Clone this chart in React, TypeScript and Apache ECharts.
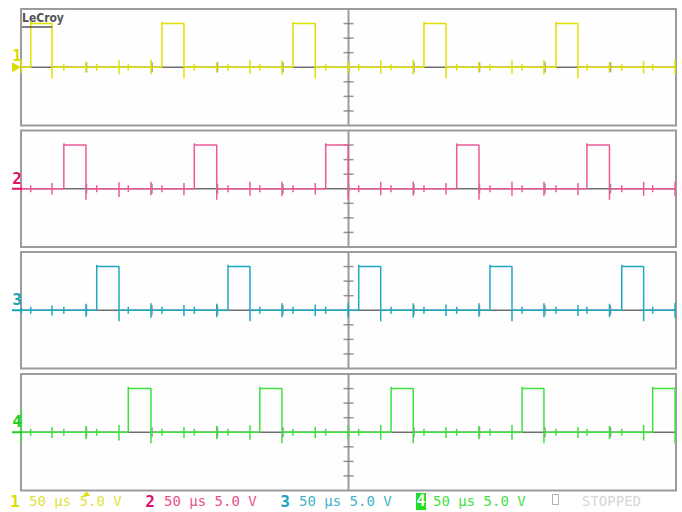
import React, { useEffect, useRef } from "react";
import * as echarts from "echarts";

// ---- scope settings ----
const timeMin = 0; // µs
const timeMax = 500; // µs (10 div x 50 µs)
const voltMin = -20; // V (8 div x 5 V)
const voltMax = 20;
const centerTime = 250;
const divTimes = [50, 100, 150, 200, 250, 300, 350, 400, 450];
const divVolts = [-15, -10, -5, 5, 10, 15];
const pulseHigh = 15;
const pulsePeak = 15.5;
const undershoot = -3.8;

// ---- channel pulse edges (µs) ----
const ch1Rises = [7.4, 107.6, 207.6, 307.6, 408.4];
const ch1Falls = [23.7, 124.4, 224.6, 324.4, 425.2];
const ch2Rises = [32.7, 132.3, 232.6, 332.6, 432.0];
const ch2Falls = [49.6, 149.4, 249.8, 349.6, 449.2];
const ch3Rises = [57.8, 158.0, 257.8, 358.0, 458.6];
const ch3Falls = [74.8, 174.8, 274.6, 374.8, 475.3];
const ch4Rises = [81.9, 182.3, 282.5, 382.5, 482.2];
const ch4Falls = [99.2, 199.2, 299.4, 399.2, 499.3];

// ---- crosstalk spikes: [time µs, up V, down V] ----
const ch1Spikes: number[][] = [
  [0.3, 2.4, 2.0], [32.7, 1.1, 1.1], [49.6, 1.9, 1.9], [57.8, 1.2, 1.2], [74.8, 2.4, 2.4], [81.9, 1.2, 1.1], [99.2, 2.6, 2.4],
  [132.3, 1.1, 1.1], [149.4, 1.6, 1.8], [158.0, 1.2, 1.2], [174.8, 2.4, 2.2], [182.3, 1.2, 1.1], [199.2, 2.4, 2.5],
  [232.6, 1.1, 1.1], [249.8, 2.0, 2.0], [257.8, 1.2, 1.2], [274.6, 2.4, 2.2], [282.5, 1.0, 1.0], [299.4, 2.6, 2.4],
  [332.6, 1.1, 1.1], [349.6, 1.8, 1.8], [358.0, 1.2, 1.2], [374.8, 2.4, 2.2], [382.5, 1.2, 1.1], [399.2, 2.5, 2.4],
  [432.0, 1.1, 1.1], [449.2, 1.8, 1.8], [458.6, 1.2, 1.2], [475.3, 2.2, 2.2], [482.2, 1.2, 1.1], [499.3, 2.6, 2.4],
];
const ch2Spikes: number[][] = [
  [0.3, 1.4, 1.4], [7.4, 1.2, 1.2], [23.7, 2.0, 2.0], [57.8, 1.2, 1.2], [74.8, 2.2, 2.8], [81.9, 1.2, 1.1], [99.2, 2.4, 2.2],
  [107.6, 1.2, 1.2], [124.4, 2.0, 2.2], [158.0, 1.2, 1.2], [174.8, 2.4, 2.4], [182.3, 1.2, 1.2], [199.2, 2.4, 2.6],
  [207.6, 1.2, 1.2], [224.6, 2.0, 2.0], [257.8, 1.2, 1.2], [274.6, 2.4, 2.2], [282.5, 1.2, 1.2], [299.4, 2.4, 2.4],
  [307.6, 1.2, 1.2], [324.4, 2.0, 2.0], [358.0, 1.2, 1.2], [374.8, 2.4, 2.4], [382.5, 1.2, 1.2], [399.2, 2.4, 2.4],
  [408.4, 1.2, 1.2], [425.2, 2.0, 2.2], [458.6, 1.2, 1.2], [475.3, 2.4, 2.4], [482.2, 1.2, 1.2], [499.3, 2.4, 2.6],
];
const ch3Spikes: number[][] = [
  [0.3, 1.0, 1.0], [7.4, 1.2, 1.2], [23.7, 1.6, 1.8], [32.7, 1.2, 1.2], [49.6, 2.2, 2.2], [81.9, 1.2, 1.2], [99.2, 2.4, 2.6],
  [107.6, 1.2, 1.2], [124.4, 1.8, 2.0], [132.3, 1.2, 1.2], [149.4, 2.2, 2.4], [182.3, 1.2, 1.2], [199.2, 2.4, 2.4],
  [207.6, 1.2, 1.2], [224.6, 2.0, 2.0], [232.6, 1.2, 1.2], [249.8, 2.6, 2.6], [282.5, 1.2, 1.2], [299.4, 2.4, 2.6],
  [307.6, 1.2, 1.2], [324.4, 2.0, 2.0], [332.6, 1.2, 1.2], [349.6, 2.4, 2.2], [382.5, 1.2, 1.2], [399.2, 2.4, 2.4],
  [408.4, 1.2, 1.2], [425.2, 1.8, 2.0], [432.0, 1.2, 1.2], [449.2, 2.2, 2.4], [482.2, 1.2, 1.2], [499.3, 2.6, 2.6],
];
const ch4Spikes: number[][] = [
  [0.3, 8.0, 3.5], [7.4, 1.2, 1.2], [23.7, 1.8, 2.0], [32.7, 1.2, 1.2], [49.6, 2.2, 2.4], [57.8, 1.2, 1.2], [74.8, 2.6, 2.8],
  [107.6, 1.2, 1.2], [124.4, 1.8, 2.0], [132.3, 1.2, 1.2], [149.4, 2.2, 2.4], [158.0, 1.2, 1.2], [174.8, 2.4, 2.6],
  [207.6, 1.2, 1.2], [224.6, 1.8, 2.0], [232.6, 1.2, 1.2], [249.8, 2.2, 2.4], [257.8, 1.2, 1.2], [274.6, 2.6, 2.6],
  [307.6, 1.2, 1.2], [324.4, 1.8, 2.0], [332.6, 1.2, 1.2], [349.6, 2.2, 2.4], [358.0, 1.2, 1.2], [374.8, 2.6, 2.6],
  [408.4, 1.2, 1.2], [425.2, 1.8, 2.0], [432.0, 1.2, 1.2], [449.2, 2.2, 2.4], [458.6, 1.2, 1.2], [475.3, 2.6, 2.8],
];

// ---- labels ----
const channelNames = ["1", "2", "3", "4"];
const timebaseLabel = "50 µs";
const voltsLabel = "5.0 V";
const statusLabel = "STOPPED";
const brandLabel = "LeCroy";

const traceColors = ["#e0e000", "#ec5a98", "#1fa9c2", "#3fe03f"];
const labelColors = ["#dcdc00", "#e0106a", "#1aa3bb", "#22cc22"];
const footerColors = ["#e2e23a", "#e8508c", "#3fb2c8", "#45e045"];

const gridTops = [9, 130.5, 252, 374];
const gridHeight = 116.5;
const gridLeft = 21;
const gridWidth = 655;

function buildTrace(rises: number[], falls: number[], spikes: number[][]) {
  type Ev = { t: number; kind: "pulse" | "spike"; a: number; b: number };
  const evs: Ev[] = [];
  rises.forEach((r, i) => evs.push({ t: r, kind: "pulse", a: r, b: falls[i] }));
  spikes.forEach((s) => evs.push({ t: s[0], kind: "spike", a: s[1], b: s[2] }));
  evs.sort((p, q) => p.t - q.t);
  const pts: number[][] = [[timeMin, 0]];
  evs.forEach((e) => {
    if (e.kind === "spike") {
      pts.push([e.t, 0], [e.t, e.a], [e.t, -e.b], [e.t, 0]);
    } else {
      pts.push([e.a, 0], [e.a, pulsePeak], [e.a + 0.4, pulseHigh], [e.b, pulseHigh], [e.b, undershoot], [e.b, 0]);
    }
  });
  pts.push([timeMax, 0]);
  return pts;
}

export default function App() {
  const ref = useRef<HTMLDivElement>(null);
  useEffect(() => {
    if (!ref.current) return;
    const chart = echarts.init(ref.current, null, { renderer: "svg" });
    const rises = [ch1Rises, ch2Rises, ch3Rises, ch4Rises];
    const falls = [ch1Falls, ch2Falls, ch3Falls, ch4Falls];
    const spikes = [ch1Spikes, ch2Spikes, ch3Spikes, ch4Spikes];

    const grids = gridTops.map((top) => ({
      left: gridLeft,
      top,
      width: gridWidth,
      height: gridHeight,
      show: true,
      borderColor: "#9c9c9c",
      borderWidth: 2,
      backgroundColor: "#fefefe",
    }));
    const xAxes = gridTops.map((_, i) => ({
      type: "value",
      gridIndex: i,
      min: timeMin,
      max: timeMax,
      show: false,
    }));
    const yAxes = gridTops.map((_, i) => ({
      type: "value",
      gridIndex: i,
      min: voltMin,
      max: voltMax,
      show: false,
    }));

    const series: any[] = [];
    gridTops.forEach((_, i) => {
      // center cross
      series.push({
        type: "line",
        xAxisIndex: i,
        yAxisIndex: i,
        data: [[timeMin, 0], [timeMax, 0]],
        showSymbol: false,
        silent: true,
        lineStyle: { color: "#6e6e6e", width: 1.5 },
        z: 1,
      });
      series.push({
        type: "line",
        xAxisIndex: i,
        yAxisIndex: i,
        data: [[centerTime, voltMin], [centerTime, voltMax]],
        showSymbol: false,
        silent: true,
        lineStyle: { color: "#9c9c9c", width: 2 },
        z: 1,
      });
      // ticks on center lines
      series.push({
        type: "scatter",
        xAxisIndex: i,
        yAxisIndex: i,
        data: divVolts.map((v) => [centerTime, v]),
        symbol: "rect",
        symbolSize: [10, 1.5],
        itemStyle: { color: "#7a7a7a" },
        silent: true,
        z: 2,
      });
      series.push({
        type: "scatter",
        xAxisIndex: i,
        yAxisIndex: i,
        data: divTimes.map((t) => [t, 0]),
        symbol: "rect",
        symbolSize: [1.5, 10],
        itemStyle: { color: "#7a7a7a" },
        silent: true,
        z: 2,
      });
      // trace
      series.push({
        type: "line",
        name: "Ch" + channelNames[i],
        xAxisIndex: i,
        yAxisIndex: i,
        data: buildTrace(rises[i], falls[i], spikes[i]),
        showSymbol: false,
        silent: true,
        lineStyle: { color: traceColors[i], width: 1.5 },
        z: 3,
      });
    });

    const font = (size: number, bold = false) =>
      `${bold ? "bold " : ""}${size}px "DejaVu Sans Mono", monospace`;

    const graphics: any[] = [];
    // left channel markers
    const labelYs = [55, 178, 299, 421];
    gridTops.forEach((top, i) => {
      const base = top + gridHeight / 2;
      graphics.push({
        type: "text",
        x: 17,
        y: labelYs[i],
        style: {
          text: channelNames[i],
          fill: labelColors[i],
          font: font(16, true),
          textAlign: "center",
          textVerticalAlign: "middle",
        },
        z: 10,
      });
      if (i === 0) {
        graphics.push({
          type: "polygon",
          shape: { points: [[12, base - 5], [21, base], [12, base + 5]] },
          style: { fill: labelColors[i] },
          z: 10,
        });
      } else {
        graphics.push({
          type: "line",
          shape: { x1: 12, y1: base, x2: 22, y2: base },
          style: { stroke: labelColors[i], lineWidth: 2 },
          z: 10,
        });
      }
    });
    // LeCroy logo
    graphics.push({
      type: "text",
      x: 22,
      y: 12,
      style: {
        text: brandLabel,
        fill: "#555555",
        font: 'bold 12px "DejaVu Sans Condensed", "DejaVu Sans", sans-serif',
      },
      z: 10,
    });
    graphics.push({
      type: "line",
      shape: { x1: 22, y1: 27, x2: 52, y2: 27 },
      style: { stroke: "#555555", lineWidth: 1.5 },
      z: 10,
    });
    // footer
    const footerNumX = [15, 150, 285, 421];
    const footerTextX = [29, 164, 299, 433];
    const fy = 501;
    channelNames.forEach((n, i) => {
      if (i === 3) {
        graphics.push({
          type: "rect",
          shape: { x: 416, y: 493, width: 10, height: 17 },
          style: { fill: "#22dd22" },
          z: 10,
        });
        graphics.push({
          type: "text",
          x: footerNumX[i],
          y: fy,
          style: { text: n, fill: "#ffffff", font: font(15, true), textAlign: "center", textVerticalAlign: "middle" },
          z: 11,
        });
      } else {
        graphics.push({
          type: "text",
          x: footerNumX[i],
          y: fy,
          style: { text: n, fill: labelColors[i], font: font(16, true), textAlign: "center", textVerticalAlign: "middle" },
          z: 10,
        });
      }
      graphics.push({
        type: "text",
        x: footerTextX[i],
        y: fy,
        style: {
          text: `${timebaseLabel} ${voltsLabel}`,
          fill: footerColors[i],
          font: font(14),
          textVerticalAlign: "middle",
        },
        z: 10,
      });
    });
    graphics.push({
      type: "polygon",
      shape: { points: [[83, 496], [86.5, 491], [90, 496]] },
      style: { fill: "#e0e000" },
      z: 12,
    });
    graphics.push({
      type: "rect",
      shape: { x: 552.5, y: 494.5, width: 6, height: 10 },
      style: { fill: "none", stroke: "#b0b0b0", lineWidth: 1 },
      z: 10,
    });
    graphics.push({
      type: "text",
      x: 582,
      y: fy,
      style: { text: statusLabel, fill: "#d6d6d6", font: font(14), textVerticalAlign: "middle" },
      z: 10,
    });

    chart.setOption({
      animation: false,
      backgroundColor: "#ffffff",
      grid: grids,
      xAxis: xAxes,
      yAxis: yAxes,
      series,
      graphic: graphics,
    });
    return () => chart.dispose();
  }, []);
  return (
    <div
      ref={ref}
      style={{ position: "fixed", left: 0, top: 0, width: 682, height: 512 }}
    />
  );
}
